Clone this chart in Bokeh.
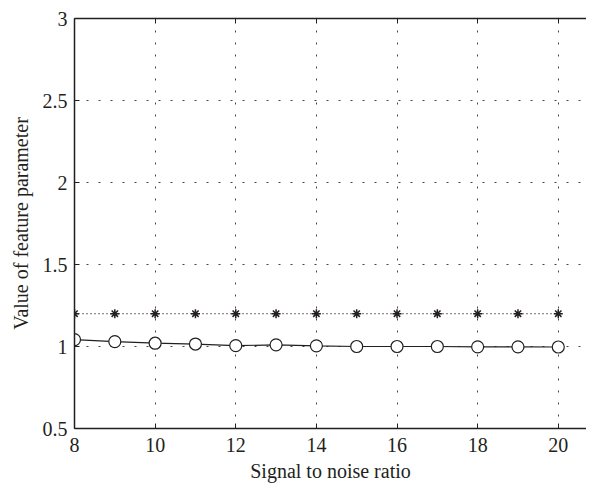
from bokeh.plotting import figure
from bokeh.models import Range1d, FixedTicker, LinearAxis
from bokeh.embed import file_html
from bokeh.resources import INLINE

snr = [8, 9, 10, 11, 12, 13, 14, 15, 16, 17, 18, 19, 20]
circle_vals = [1.042, 1.03, 1.02, 1.015, 1.005, 1.01, 1.004, 1.0, 1.0, 1.0, 0.998, 0.998, 0.997]
star_vals = [1.2] * 13
x_ticks = [8, 10, 12, 14, 16, 18, 20]
y_ticks = [0.5, 1, 1.5, 2, 2.5, 3]
y_labels = ["0.5", "1", "1.5", "2", "2.5", "3"]

FONT = "Liberation Serif"
TXT = "#231f20"

p = figure(width=586, height=484, output_backend="svg", toolbar_location=None,
           x_range=Range1d(8, 20.7), y_range=Range1d(0.5, 3),
           min_border_left=74, min_border_right=0, min_border_top=18, min_border_bottom=53,
           x_axis_label="Signal to noise ratio", y_axis_label="Value of feature parameter")
p.outline_line_color = None
p.background_fill_color = "white"
p.border_fill_color = "white"

for ax in (p.xaxis[0], p.yaxis[0]):
    ax.axis_line_color = TXT
    ax.axis_line_width = 1.5
    ax.major_tick_in = 5
    ax.major_tick_out = 0
    ax.minor_tick_line_color = None
    ax.major_tick_line_color = TXT
    ax.major_label_text_font = FONT
    ax.major_label_text_font_size = "20px"
    ax.major_label_text_color = TXT
    ax.axis_label_text_font = FONT
    ax.axis_label_text_font_size = "20px"
    ax.axis_label_text_font_style = "normal"
    ax.axis_label_text_color = TXT

p.xaxis.ticker = FixedTicker(ticks=x_ticks)
p.yaxis.ticker = FixedTicker(ticks=y_ticks)
p.yaxis.major_label_overrides = {t: l for t, l in zip(y_ticks, y_labels)}
p.xaxis.major_label_standoff = 9
p.yaxis.major_label_standoff = 7
p.xaxis.axis_label_standoff = 5
p.yaxis.axis_label_standoff = 8

top = LinearAxis(ticker=FixedTicker(ticks=x_ticks), major_label_text_font_size="0px",
                 major_tick_in=5, major_tick_out=0, minor_tick_line_color=None,
                 axis_line_color=TXT, axis_line_width=1.5, major_tick_line_color=TXT)
p.add_layout(top, "above")

for g in (p.xgrid[0], p.ygrid[0]):
    g.grid_line_color = "#444444"
    g.grid_line_dash = "2 10"
    g.grid_line_width = 1
p.xgrid.ticker = FixedTicker(ticks=x_ticks)
p.ygrid.ticker = FixedTicker(ticks=y_ticks)

p.line(snr, star_vals, line_color=TXT, line_width=1.2, line_dash="1 3")
p.scatter(snr, star_vals, marker="asterisk", size=9, line_color=TXT, line_width=1.5)

p.line(snr, circle_vals, line_color=TXT, line_width=1.2)
p.scatter(snr, circle_vals, marker="circle", size=12, fill_color="white",
          line_color=TXT, line_width=1.2)

open("out.html", "w").write(file_html(p, INLINE))
